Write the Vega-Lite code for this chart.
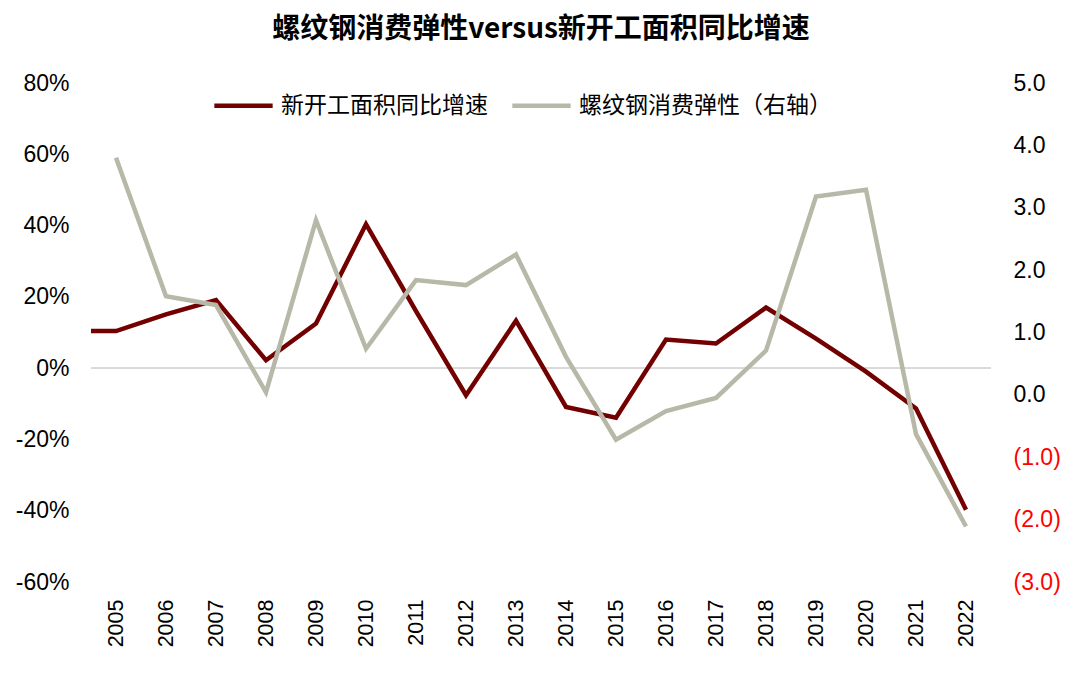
{
  "$schema": "https://vega.github.io/schema/vega-lite/v6.json",
  "width": 900,
  "height": 499,
  "padding": {"left": 15, "top": 16, "right": 0, "bottom": 0},
  "background": "white",
  "title": {
    "text": "螺纹钢消费弹性versus新开工面积同比增速",
    "font": "Noto Sans CJK SC",
    "fontSize": 28,
    "fontWeight": "bold",
    "color": "#000000",
    "anchor": "middle",
    "offset": 28
  },
  "config": {
    "view": {"stroke": null},
    "axis": {
      "labelFont": "Liberation Sans",
      "labelFontSize": 23,
      "labelColor": "#000000",
      "domain": false,
      "ticks": false,
      "grid": false,
      "title": null
    }
  },
  "data": {
    "values": [
      {"year": 2004.5, "g": 10.4, "e": null},
      {"year": 2005, "g": 10.4, "e": 3.80},
      {"year": 2006, "g": 15.1, "e": 1.58},
      {"year": 2007, "g": 19.1, "e": 1.44},
      {"year": 2008, "g": 2.2, "e": 0.04},
      {"year": 2009, "g": 12.5, "e": 2.80},
      {"year": 2010, "g": 40.4, "e": 0.74},
      {"year": 2011, "g": 16.0, "e": 1.84},
      {"year": 2012, "g": -7.6, "e": 1.76},
      {"year": 2013, "g": 13.3, "e": 2.25},
      {"year": 2014, "g": -10.9, "e": 0.61},
      {"year": 2015, "g": -13.9, "e": -0.72},
      {"year": 2016, "g": 8.0, "e": -0.26},
      {"year": 2017, "g": 6.9, "e": -0.05},
      {"year": 2018, "g": 17.0, "e": 0.71},
      {"year": 2019, "g": 8.3, "e": 3.18},
      {"year": 2020, "g": -1.0, "e": 3.29},
      {"year": 2021, "g": -11.3, "e": -0.63},
      {"year": 2022, "g": -39.7, "e": -2.11}
    ]
  },
  "encoding": {
    "x": {
      "field": "year",
      "type": "quantitative",
      "scale": {"domain": [2004.5, 2022.5], "nice": false, "zero": false},
      "axis": {
        "values": [2005, 2006, 2007, 2008, 2009, 2010, 2011, 2012, 2013, 2014, 2015, 2016, 2017, 2018, 2019, 2020, 2021, 2022],
        "format": "d",
        "labelAngle": 270,
        "labelFontSize": 21.5,
        "labelPadding": 17,
        "labelOverlap": false
      }
    }
  },
  "layer": [
    {
      "layer": [
        {
          "mark": {"type": "rule", "color": "#d9d9d9", "strokeWidth": 1.5},
          "encoding": {
            "x": {"datum": 2004.5, "type": "quantitative"},
            "x2": {"datum": 2022.5},
            "y": {"datum": 0, "type": "quantitative"}
          }
        },
        {
          "mark": {"type": "line", "strokeWidth": 4.5, "strokeJoin": "miter"},
          "encoding": {
            "y": {
              "field": "g",
              "type": "quantitative",
              "scale": {"domain": [-60, 80], "nice": false},
              "axis": {
                "orient": "left",
                "values": [-60, -40, -20, 0, 20, 40, 60, 80],
                "labelExpr": "datum.value + '%'",
                "labelPadding": 22
              }
            },
            "color": {
              "datum": "新开工面积同比增速",
              "scale": {
                "domain": ["新开工面积同比增速", "螺纹钢消费弹性（右轴）"],
                "range": ["#720000", "#b8b8a8"]
              },
              "legend": {
                "orient": "none",
                "legendX": 121,
                "legendY": -9,
                "direction": "horizontal",
                "title": null,
                "symbolType": "stroke",
                "symbolSize": 3400,
                "symbolStrokeWidth": 4.5,
                "labelFont": "Noto Sans CJK SC",
                "labelFontSize": 23,
                "labelColor": "#000000",
                "labelOffset": 6,
                "columnPadding": 15,
                "labelLimit": 400
              }
            }
          }
        }
      ]
    },
    {
      "mark": {"type": "line", "strokeWidth": 4.5, "strokeJoin": "miter"},
      "encoding": {
        "y": {
          "field": "e",
          "type": "quantitative",
          "scale": {"domain": [-3, 5], "nice": false},
          "axis": {
            "orient": "right",
            "values": [-3, -2, -1, 0, 1, 2, 3, 4, 5],
            "labelExpr": "datum.value < 0 ? '(' + format(-datum.value, '.1f') + ')' : format(datum.value, '.1f')",
            "labelColor": {"condition": {"test": "datum.value < 0", "value": "#ff0000"}, "value": "#000000"},
            "labelPadding": 22
          }
        },
        "color": {"datum": "螺纹钢消费弹性（右轴）"}
      }
    }
  ],
  "resolve": {"scale": {"y": "independent"}}
}
